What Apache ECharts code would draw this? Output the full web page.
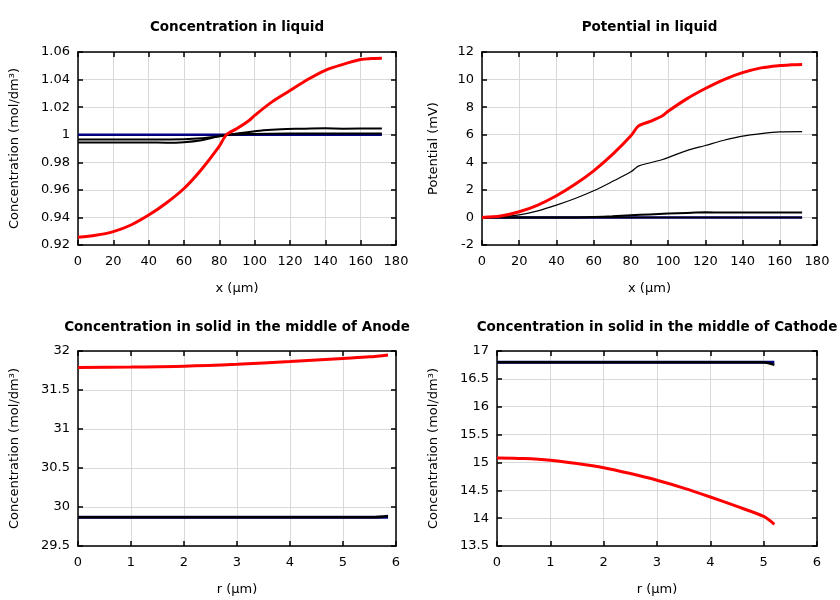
<!DOCTYPE html>
<html><head><meta charset="utf-8">
<script src="https://cdn.jsdelivr.net/npm/echarts@6/dist/echarts.min.js"></script>
<style>html,body{margin:0;padding:0;background:#fff}#c{width:840px;height:600px}</style>
</head><body><div id="c"></div>
<script>
// ---- Plot 1: Concentration in liquid ----
const p1RedX = [0,10,20,30,40,50,60,70,80,84,90,97,100,110,120,130,140,150,160,166,172];
const p1RedY = [0.9256,0.9270,0.9297,0.9345,0.9417,0.9505,0.9610,0.9750,0.9917,1.0000,1.0045,1.0105,1.0140,1.0240,1.0320,1.0400,1.0467,1.0510,1.0545,1.0552,1.0555];
const p1BlkAX = [0,20,40,50,60,70,75,80,85,90,97,105,115,125,140,150,172];
const p1BlkAY = [0.9944,0.9944,0.9944,0.9942,0.9946,0.9960,0.9975,0.9988,1.0000,1.0009,1.0020,1.0032,1.0040,1.0043,1.0046,1.0044,1.0045];
const p1BlkBX = [0,40,60,70,80,85,97,120,172];
const p1BlkBY = [0.9966,0.9966,0.9968,0.9975,0.9990,1.0000,1.0005,1.0008,1.0009];
const p1BlueX = [0,172];
const p1BlueY = [1.0,1.0];
// ---- Plot 2: Potential in liquid ----
const p2RedX = [0,10,20,30,40,50,60,70,80,84,90,97,100,110,120,130,140,150,160,166,172];
const p2RedY = [0,0.10,0.41,0.90,1.57,2.40,3.38,4.55,5.92,6.62,6.95,7.38,7.70,8.60,9.35,10.00,10.50,10.85,11.02,11.07,11.10];
const p2BlkAX = [0,10,20,30,40,50,60,70,80,84,90,97,110,120,130,140,150,160,172];
const p2BlkAY = [0,0.05,0.19,0.48,0.89,1.37,1.93,2.60,3.31,3.72,3.95,4.20,4.85,5.22,5.60,5.90,6.08,6.20,6.22];
const p2BlkBX = [0,50,60,70,80,90,100,110,120,130,140,172];
const p2BlkBY = [0,0,0.03,0.08,0.15,0.22,0.28,0.33,0.37,0.36,0.35,0.35];
const p2BlueX = [0,172];
const p2BlueY = [0,0];
// ---- Plot 3: Anode solid ----
const p3RedX = [0,1,2,3,4,5,5.5,5.85];
const p3RedY = [31.79,31.795,31.805,31.83,31.865,31.905,31.925,31.95];
const p3BlkX = [0,5.6,5.85];
const p3BlkY = [29.87,29.87,29.885];
const p3BlueX = [0,5.85];
const p3BlueY = [29.87,29.87];
// ---- Plot 4: Cathode solid ----
const p4RedX = [0,0.5,1,1.5,2,2.5,3,3.5,4,4.5,5,5.2];
const p4RedY = [15.08,15.07,15.04,14.98,14.905,14.80,14.68,14.54,14.38,14.21,14.03,13.89];
const p4BlkX = [0,5,5.2];
const p4BlkY = [16.8,16.8,16.75];
const p4BlueX = [0,5.2];
const p4BlueY = [16.8,16.8];

const titles = ['Concentration in liquid','Potential in liquid','Concentration in solid in the middle of Anode','Concentration in solid in the middle of Cathode'];
const xNames = ['x (μm)','x (μm)','r (μm)','r (μm)'];
const yNames = ['Concentration (mol/dm³)','Potential (mV)','Concentration (mol/dm³)','Concentration (mol/dm³)'];

const zip = (xs, ys) => xs.map((x, i) => [x, ys[i]]);
const FONT = 'DejaVu Sans';
const grids = [
  {left:78, right:444, top:52, height:193},
  {left:482, right:23, top:52, height:193},
  {left:78, right:444, top:351, height:195},
  {left:497, right:23, top:351, height:195}
];
const xr = [[0,180,20],[0,180,20],[0,6,1],[0,6,1]];
const yr = [[0.92,1.06,0.02],[-2,12,2],[29.5,32,0.5],[13.5,17,0.5]];
const yGap = [57,42,57,57];

const xAxis = [], yAxis = [], title = [];
grids.forEach((g, i) => {
  const cx = g.left + (840 - g.left - g.right) / 2 - 5;
  title.push({text: titles[i], left: cx, top: i < 2 ? 15 : 315, textAlign: 'center',
    textStyle: {fontFamily: FONT, fontSize: 13.5, fontWeight: 'bold', color: '#000'}});
  const common = {gridIndex: i, type: 'value'};
  xAxis.push(Object.assign({}, common, {min: xr[i][0], max: xr[i][1], interval: xr[i][2], position: 'bottom',
    name: xNames[i], nameLocation: 'middle', nameGap: 37,
    nameTextStyle: {fontFamily: FONT, fontSize: 13, color: '#000'},
    axisLine: {show: true, onZero: false, lineStyle: {color: '#000', width: 1.5}},
    axisTick: {show: true, inside: true, length: 5, lineStyle: {color: '#000', width: 1.5}},
    axisLabel: {fontFamily: FONT, fontSize: 13, color: '#000', margin: 10},
    splitLine: {show: true, lineStyle: {color: '#d9d9d9', width: 1}}}));
  xAxis.push(Object.assign({}, common, {min: xr[i][0], max: xr[i][1], interval: xr[i][2], position: 'top',
    axisLine: {show: true, onZero: false, lineStyle: {color: '#000', width: 1.5}},
    axisTick: {show: true, inside: true, length: 5, lineStyle: {color: '#000', width: 1.5}},
    axisLabel: {show: false}, splitLine: {show: false}}));
  yAxis.push(Object.assign({}, common, {min: yr[i][0], max: yr[i][1], interval: yr[i][2], position: 'left',
    name: yNames[i], nameLocation: 'middle', nameGap: yGap[i],
    nameTextStyle: {fontFamily: FONT, fontSize: 13, color: '#000'},
    axisLine: {show: true, onZero: false, lineStyle: {color: '#000', width: 1.5}},
    axisTick: {show: true, inside: true, length: 5, lineStyle: {color: '#000', width: 1.5}},
    axisLabel: {fontFamily: FONT, fontSize: 13, color: '#000', margin: 8},
    splitLine: {show: true, lineStyle: {color: '#d9d9d9', width: 1}}}));
  yAxis.push(Object.assign({}, common, {min: yr[i][0], max: yr[i][1], interval: yr[i][2], position: 'right',
    axisLine: {show: true, onZero: false, lineStyle: {color: '#000', width: 1.5}},
    axisTick: {show: true, inside: true, length: 5, lineStyle: {color: '#000', width: 1.5}},
    axisLabel: {show: false}, splitLine: {show: false}}));
});

function line(gi, xs, ys, color, width) {
  return {type: 'line', xAxisIndex: gi * 2, yAxisIndex: gi * 2, data: zip(xs, ys),
    showSymbol: false, symbol: 'none', smooth: 0.3, animation: false,
    lineStyle: {color: color, width: width}, itemStyle: {color: color}, z: 3};
}
const BLUE = '#000080';
const series = [
  line(0, p1BlueX, p1BlueY, BLUE, 2.5),
  line(0, p1BlkAX, p1BlkAY, '#000', 2),
  line(0, p1BlkBX, p1BlkBY, '#000', 2),
  line(0, p1RedX, p1RedY, '#ff0000', 3),
  line(1, p2BlueX, p2BlueY, BLUE, 2.5),
  line(1, p2BlueX, p2BlueY, '#000', 1.5),
  line(1, p2BlkBX, p2BlkBY, '#000', 2),
  line(1, p2BlkAX, p2BlkAY, '#000', 1.2),
  line(1, p2RedX, p2RedY, '#ff0000', 3),
  line(2, p3BlueX, p3BlueY, BLUE, 3),
  line(2, p3BlkX, p3BlkY, '#000', 2.5),
  line(2, p3RedX, p3RedY, '#ff0000', 3),
  line(3, p4BlueX, p4BlueY, BLUE, 3),
  line(3, p4BlkX, p4BlkY, '#000', 2.5),
  line(3, p4RedX, p4RedY, '#ff0000', 3)
];

const chart = echarts.init(document.getElementById('c'), null, {renderer: 'canvas'});
chart.setOption({animation: false, backgroundColor: '#fff', title, grid: grids, xAxis, yAxis, series});
</script></body></html>
